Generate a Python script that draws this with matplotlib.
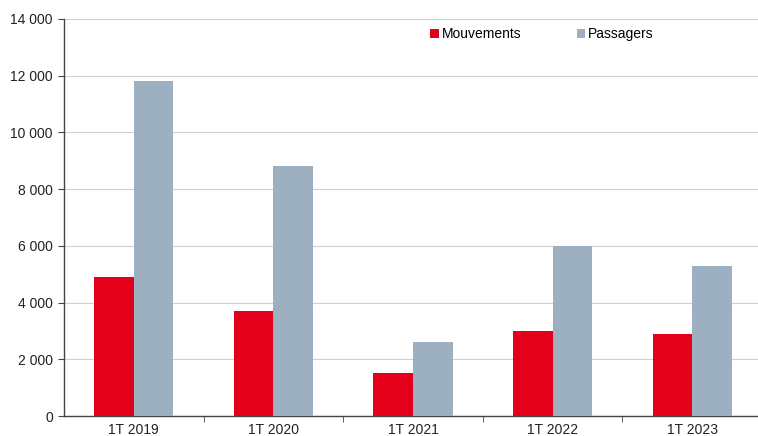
import matplotlib
matplotlib.use("Agg")
import matplotlib.pyplot as plt
import numpy as np

plt.rcParams["font.family"] = ["Liberation Sans", "DejaVu Sans"]

categories = ["1T 2019", "1T 2020", "1T 2021", "1T 2022", "1T 2023"]
mouvements = [4900, 3700, 1500, 3000, 2900]
passagers = [11800, 8800, 2600, 6000, 5300]

RED = "#E2001A"
GREY_BLUE = "#9DB0C1"

fig = plt.figure(figsize=(7.58, 4.36), dpi=100)
ax = fig.add_axes([64 / 758, 20 / 436, 698 / 758, 397 / 436])

x = np.arange(len(categories))
w = 0.283
ax.bar(x - w / 2, mouvements, w, color=RED, label="Mouvements", zorder=3)
ax.bar(x + w / 2, passagers, w, color=GREY_BLUE, label="Passagers", zorder=3)

ax.set_xlim(-0.5, len(categories) - 0.5)
ax.set_ylim(0, 14000)
ax.set_yticks(range(0, 14001, 2000))
ax.set_yticklabels([f"{v:,}".replace(",", " ") for v in range(0, 14001, 2000)],
                   fontsize=10, color="#222")
ax.grid(axis="y", color="#cfcfcf", linewidth=0.8, zorder=0)

ax.set_xticks(x)
ax.set_xticklabels(categories, fontsize=10, color="#222")
ax.tick_params(axis="x", length=0, pad=5)
ax.set_xticks(np.arange(0.5, len(categories) - 0.5, 1), minor=True)
ax.tick_params(axis="x", which="minor", length=4, direction="out", color="#444")
ax.tick_params(axis="y", length=4, direction="out", color="#444", pad=4)

for sp in ("top", "right"):
    ax.spines[sp].set_visible(False)
for sp in ("left", "bottom"):
    ax.spines[sp].set_color("#444")
    ax.spines[sp].set_linewidth(1.0)

ax.legend(loc="center left", bbox_to_anchor=(0.517, 0.962), ncol=2, frameon=False,
          fontsize=10, handlelength=0.6, handleheight=0.6, handletextpad=0.2,
          columnspacing=4.0, borderaxespad=0)

fig.savefig("out.png", dpi=100)
